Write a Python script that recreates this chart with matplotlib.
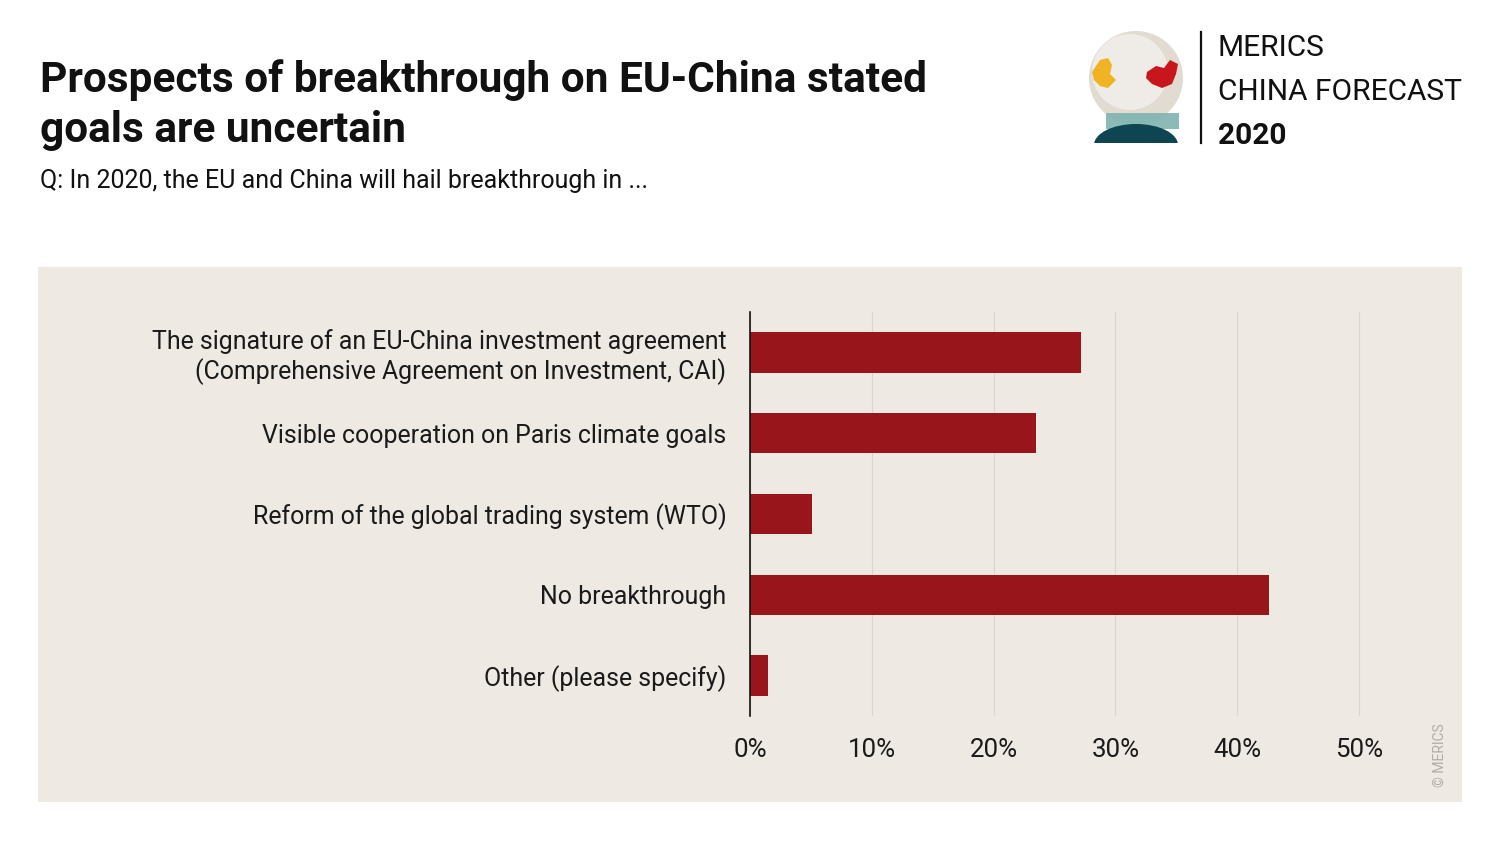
import matplotlib
matplotlib.use("Agg")
import matplotlib.pyplot as plt
from matplotlib.patches import Rectangle, Circle, Polygon, Ellipse
import numpy as np

# ---- data ----
categories = [
    "The signature of an EU-China investment agreement\n(Comprehensive Agreement on Investment, CAI)",
    "Visible cooperation on Paris climate goals",
    "Reform of the global trading system (WTO)",
    "No breakthrough",
    "Other (please specify)",
]
values = [27.2, 23.5, 5.1, 42.6, 1.5]
xticks = [0, 10, 20, 30, 40, 50]
xticklabels = ["0%", "10%", "20%", "30%", "40%", "50%"]

title = "Prospects of breakthrough on EU-China stated\ngoals are uncertain"
subtitle = "Q: In 2020, the EU and China will hail breakthrough in ..."

BAR = "#98151b"
PANEL = "#eee9e3"
GRID = "#dcd6cf"
FONT = ["Roboto", "DejaVu Sans"]

W, H = 1500, 844
fig = plt.figure(figsize=(W / 100, H / 100), dpi=100)
fig.patch.set_facecolor("white")

def fx(px):
    return px / W

def fy(py):
    return 1 - py / H

# background panel
bg = fig.add_axes([fx(38), fy(802), fx(1462) - fx(38), fy(267) - fy(802)])
bg.set_zorder(0)
bg.set_facecolor(PANEL)
bg.set_xticks([])
bg.set_yticks([])
for s in bg.spines.values():
    s.set_visible(False)

# main axes
xmax = 52.0
ax_left, ax_right = 750, 750 + 12.18 * xmax
ax_top, ax_bottom = 312, 716
ax = fig.add_axes([fx(ax_left), fy(ax_bottom), fx(ax_right) - fx(ax_left), fy(ax_top) - fy(ax_bottom)])
ax.set_zorder(2)
ax.set_facecolor("none")
y = np.arange(len(categories))
ax.barh(y, values, height=0.5, color=BAR, edgecolor="none", zorder=3)
ax.set_ylim(len(categories) - 0.5, -0.5)
ax.set_xlim(0, xmax)
ax.set_xticks(xticks)
ax.set_xticklabels(xticklabels, fontsize=16, family=FONT, color="#1a1a1a")
ax.set_yticks(y)
ax.set_yticklabels(categories, fontsize=15, family=FONT, color="#1a1a1a", linespacing=1.2)
ax.tick_params(axis="both", length=0)
ax.tick_params(axis="x", pad=16)
ax.tick_params(axis="y", pad=17)
for s in ["top", "right", "bottom"]:
    ax.spines[s].set_visible(False)
ax.spines["left"].set_color("#111111")
ax.spines["left"].set_linewidth(1.2)
ax.spines["left"].set_zorder(4)
ax.grid(axis="x", color=GRID, linewidth=0.8, zorder=0)
ax.set_axisbelow(True)

# title + subtitle
t1 = fig.text(fx(40), fy(92), "Prospects of breakthrough on EU-China stated", fontsize=28,
              fontweight="bold", family=FONT, color="#111111", va="baseline", ha="left")
t2 = fig.text(fx(40), fy(142), "goals are uncertain", fontsize=28,
              fontweight="bold", family=FONT, color="#111111", va="baseline", ha="left")
st = fig.text(fx(40), fy(188), subtitle, fontsize=17, family=FONT, color="#111111",
              va="baseline", ha="left")

# copyright
fig.text(fx(1440), fy(755), "© MERICS", rotation=90, fontsize=10, family=FONT,
         color="#b0aca7", ha="center", va="center", zorder=5)

# ---- logo ----
lax = fig.add_axes([fx(1080), fy(150), fx(1480) - fx(1080), fy(20) - fy(150)])
lax.set_zorder(3)
lax.set_xlim(1080, 1480)
lax.set_ylim(150, 20)
lax.axis("off")
lax.set_aspect("equal")
lax.add_patch(Circle((1136, 78), 47, facecolor="#e2dbd2", edgecolor="none", zorder=1))
lax.add_patch(Circle((1130, 72), 38, facecolor="#efebe6", edgecolor="none", zorder=1))
europe = [(1092, 72), (1100, 60), (1108, 58), (1112, 65), (1110, 74), (1116, 80), (1108, 88),
          (1100, 86), (1094, 80)]
lax.add_patch(Polygon(europe, closed=True, facecolor="#f0b323", edgecolor="none", zorder=2))
china = [(1147, 72), (1156, 66), (1164, 68), (1170, 60), (1178, 64), (1176, 74), (1172, 84),
         (1162, 88), (1152, 84), (1146, 78)]
lax.add_patch(Polygon(china, closed=True, facecolor="#c8161d", edgecolor="none", zorder=2))
lax.add_patch(Rectangle((1106, 113), 73, 16, facecolor="#7fb3b0", edgecolor="none", alpha=0.9, zorder=3))
lax.add_patch(Ellipse((1136, 145), 84, 42, facecolor="#0d4650", edgecolor="none", zorder=4))
lax.add_patch(Rectangle((1080, 143), 115, 10, facecolor="white", edgecolor="none", zorder=5))
lax.plot([1201, 1201], [32, 143], color="#111111", linewidth=1.6)
m1 = fig.text(fx(1218), fy(56), "MERICS", fontsize=22, family=FONT, color="#111111", va="baseline")
m2 = fig.text(fx(1218), fy(100), "CHINA FORECAST", fontsize=22, family=FONT, color="#111111", va="baseline")
m3 = fig.text(fx(1218), fy(144), "2020", fontsize=22, fontweight="bold", family=FONT, color="#111111", va="baseline")

# ---- fit text widths to reference ----
fig.canvas.draw()
r = fig.canvas.get_renderer()

def fit(t, target):
    w = t.get_window_extent(r).width
    t.set_fontsize(t.get_fontsize() * target / w)

fit(t1, 887)
t2.set_fontsize(t1.get_fontsize())
fit(st, 610)
fit(m2, 244)
m1.set_fontsize(m2.get_fontsize())
m3.set_fontsize(m2.get_fontsize())

labs = ax.get_yticklabels()
tmp = fig.text(0, 0, "The signature of an EU-China investment agreement", fontsize=15, family=FONT)
w = tmp.get_window_extent(r).width
tmp.remove()
cs = 15 * 576 / w
for l in labs:
    l.set_fontsize(cs)
tmp = fig.text(0, 0, "40%", fontsize=16, family=FONT)
w = tmp.get_window_extent(r).width
tmp.remove()
ts = 16 * 48 / w
for l in ax.get_xticklabels():
    l.set_fontsize(ts)

fig.savefig("out.png", dpi=100, facecolor="white")
